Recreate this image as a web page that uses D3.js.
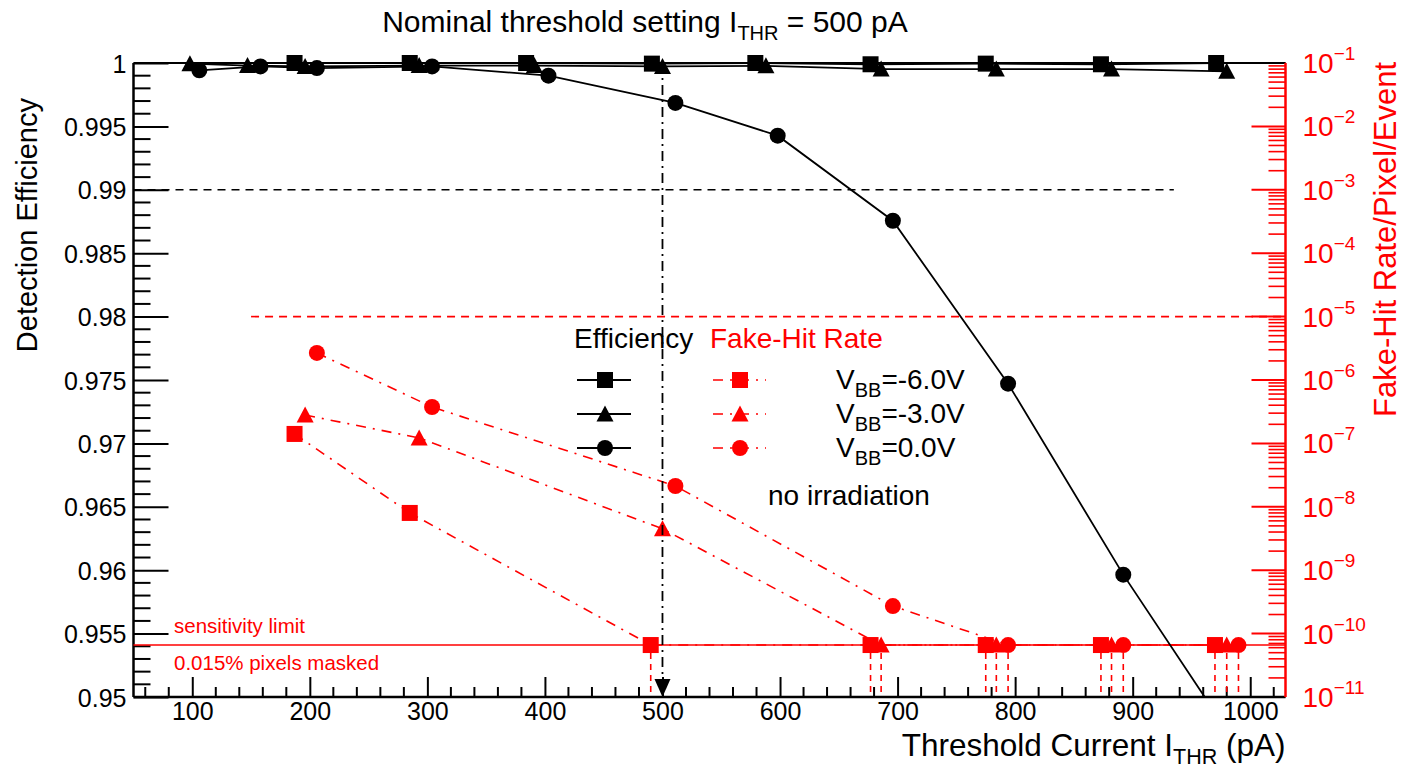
<!DOCTYPE html>
<html><head><meta charset="utf-8">
<script src="https://cdn.jsdelivr.net/npm/d3@7"></script>
<style>body{margin:0;background:#fff}svg{display:block;font-family:"Liberation Sans",Arial,Helvetica,sans-serif}</style>
</head><body>
<svg id="c" width="1404" height="773"></svg>
<script>
// ---------- data ----------
const xDomain = [50, 1030];
const effDomain = [0.95, 1.0];
const fakeDomain = [1e-11, 1e-1];
const xTickValues = [100, 200, 300, 400, 500, 600, 700, 800, 900, 1000];
const xTickLabels = ["100", "200", "300", "400", "500", "600", "700", "800", "900", "1000"];
const effTickValues = [0.95, 0.955, 0.96, 0.965, 0.97, 0.975, 0.98, 0.985, 0.99, 0.995, 1.0];
const effTickLabels = ["0.95", "0.955", "0.96", "0.965", "0.97", "0.975", "0.98", "0.985", "0.99", "0.995", "1"];
const fakeTickExponents = [-11, -10, -9, -8, -7, -6, -5, -4, -3, -2, -1];
const seriesNames = ["-6.0V", "-3.0V", "0.0V"];
const seriesMarkers = ["square", "triangle", "circle"];

// efficiency (left axis)
const effX_m6 = [187, 285, 384, 491, 579, 677, 775, 873, 971];
const effY_m6 = [1.0, 1.0, 1.0, 0.99995, 1.0, 0.9999, 0.99995, 0.9999, 1.0];
const effX_m3 = [98, 147, 196, 293, 391, 500, 588, 686, 784, 882, 980];
const effY_m3 = [0.99995, 0.9998, 0.99973, 0.9998, 0.9998, 0.99973, 0.99978, 0.99952, 0.99952, 0.99952, 0.99934];
const effX_0 = [106, 158, 206, 304, 403, 511, 598, 696, 794, 892, 990];
const effY_0 = [0.99942, 0.99973, 0.9996, 0.99973, 0.999, 0.99685, 0.99427, 0.98756, 0.97471, 0.95965, 0.946];

// fake-hit rate (right axis); points at the sensitivity limit are upper limits
const sensitivityLimit = 6.6e-11;
const fakeX_m6 = [187, 285, 490, 677, 775, 873, 970];
const fakeY_m6 = [1.41e-7, 8.0e-9, 6.6e-11, 6.6e-11, 6.6e-11, 6.6e-11, 6.6e-11];
const fakeX_m3 = [196, 293, 500, 686, 784, 882, 980];
const fakeY_m3 = [2.8e-7, 1.22e-7, 4.5e-9, 6.6e-11, 6.6e-11, 6.6e-11, 6.6e-11];
const fakeX_0 = [206, 304, 511, 696, 794, 892, 990];
const fakeY_0 = [2.67e-6, 3.75e-7, 2.13e-8, 2.72e-10, 6.6e-11, 6.6e-11, 6.6e-11];

const effRequirement = 0.99, effRequirementRange = [50, 935];
const fakeRequirement = 1e-5, fakeRequirementRange = [150, 1030];
const nominalThreshold = 500;

// ---------- layout ----------
const L = 133.5, R = 1285.5, T = 63, B = 697;
const RED = "#ff0000";
const svg = d3.select("#c");
const x = d3.scaleLinear().domain(xDomain).range([L, R]);
const yE = d3.scaleLinear().domain(effDomain).range([B, T]);
const yF = d3.scaleLog().domain(fakeDomain).range([B, T]);

svg.append("defs").append("clipPath").attr("id", "clip")
  .append("rect").attr("x", L).attr("y", T - 10).attr("width", R - L).attr("height", B - T + 10);

// ---------- axes ----------
const xAx = svg.append("g").attr("transform", `translate(0,${B})`)
  .call(d3.axisBottom(x).tickValues(xTickValues).tickFormat((d, i) => xTickLabels[i]).tickSizeInner(-20).tickSizeOuter(0).tickPadding(5));
xAx.select(".domain").remove();
xAx.selectAll("line").attr("stroke", "#000").attr("stroke-width", 2);
xAx.selectAll("text").attr("font-size", 25).attr("fill", "#000");
const xMinor = d3.range(60, 1030, 20).filter(v => v % 100 !== 0);
svg.append("g").selectAll("line").data(xMinor).join("line")
  .attr("x1", d => x(d)).attr("x2", d => x(d)).attr("y1", B).attr("y2", B - 10)
  .attr("stroke", "#000").attr("stroke-width", 2);

const yAx = svg.append("g").attr("transform", `translate(${L},0)`)
  .call(d3.axisLeft(yE).tickValues(effTickValues).tickFormat((d, i) => effTickLabels[i]).tickSizeInner(-35).tickSizeOuter(0).tickPadding(7));
yAx.select(".domain").remove();
yAx.selectAll("line").attr("stroke", "#000").attr("stroke-width", 2);
yAx.selectAll("text").attr("font-size", 25).attr("fill", "#000").attr("dy", "0.36em");
const yMinor = d3.range(0, 51).map(i => 0.95 + i * 0.001).filter((v, i) => i % 5 !== 0);
svg.append("g").selectAll("line").data(yMinor).join("line")
  .attr("x1", L).attr("x2", L + 17).attr("y1", d => yE(d)).attr("y2", d => yE(d))
  .attr("stroke", "#000").attr("stroke-width", 2);

// right log axis (red)
const rightG = svg.append("g");
fakeTickExponents.forEach(e => {
  const v = Math.pow(10, e);
  rightG.append("line").attr("x1", R - 34).attr("x2", R).attr("y1", yF(v)).attr("y2", yF(v)).attr("stroke", RED).attr("stroke-width", 2);
  const t = rightG.append("text").attr("x", R + 17).attr("y", yF(v) + 10).attr("fill", RED).attr("font-size", 28);
  t.append("tspan").text("10");
  t.append("tspan").attr("font-size", 19).attr("dy", -13).text("\u2212" + Math.abs(e));
  if (e < -1) {
    for (let k = 2; k <= 9; k++) {
      const mv = k * v;
      rightG.append("line").attr("x1", R - 17).attr("x2", R).attr("y1", yF(mv)).attr("y2", yF(mv)).attr("stroke", RED).attr("stroke-width", 1.6);
    }
  }
});

// frame
svg.append("line").attr("x1", L).attr("x2", R).attr("y1", T).attr("y2", T).attr("stroke", "#000").attr("stroke-width", 2);
svg.append("line").attr("x1", L).attr("x2", L).attr("y1", T).attr("y2", B).attr("stroke", "#000").attr("stroke-width", 2.5);
svg.append("line").attr("x1", L).attr("x2", R).attr("y1", B).attr("y2", B).attr("stroke", "#000").attr("stroke-width", 2.5);
svg.append("line").attr("x1", R).attr("x2", R).attr("y1", T).attr("y2", B).attr("stroke", RED).attr("stroke-width", 2.5);

// ---------- reference lines ----------
svg.append("line").attr("x1", x(effRequirementRange[0])).attr("x2", x(effRequirementRange[1]))
  .attr("y1", yE(effRequirement)).attr("y2", yE(effRequirement))
  .attr("stroke", "#000").attr("stroke-width", 1.6).attr("stroke-dasharray", "8,6");
svg.append("line").attr("x1", x(fakeRequirementRange[0])).attr("x2", x(fakeRequirementRange[1]))
  .attr("y1", yF(fakeRequirement)).attr("y2", yF(fakeRequirement))
  .attr("stroke", RED).attr("stroke-width", 1.6).attr("stroke-dasharray", "8,6");
svg.append("line").attr("x1", L).attr("x2", R).attr("y1", yF(sensitivityLimit)).attr("y2", yF(sensitivityLimit))
  .attr("stroke", RED).attr("stroke-width", 1.6);

// ---------- marker helper ----------
function marker(g, type, cx, cy, color, s = 16) {
  if (type === "square") {
    g.append("rect").attr("x", cx - s / 2).attr("y", cy - s / 2).attr("width", s).attr("height", s).attr("fill", color);
  } else if (type === "circle") {
    g.append("circle").attr("cx", cx).attr("cy", cy).attr("r", s / 2).attr("fill", color);
  } else {
    const w = s + 1, h = s - 1;
    g.append("path").attr("d", `M${cx},${cy - h / 2 - 1}L${cx + w / 2},${cy + h / 2}L${cx - w / 2},${cy + h / 2}Z`).attr("fill", color);
  }
}

// ---------- fake-hit series (red) ----------
const fakeSets = [[fakeX_m6, fakeY_m6], [fakeX_m3, fakeY_m3], [fakeX_0, fakeY_0]];
const plot = svg.append("g").attr("clip-path", "url(#clip)");
fakeSets.forEach(([xs, ys], si) => {
  const pts = xs.map((v, i) => [x(v), yF(ys[i])]);
  plot.append("path").attr("d", d3.line()(pts)).attr("fill", "none")
    .attr("stroke", RED).attr("stroke-width", 1.6).attr("stroke-dasharray", "10,7,2,7");
  xs.forEach((v, i) => {
    if (ys[i] <= sensitivityLimit) {
      plot.append("line").attr("x1", x(v)).attr("x2", x(v)).attr("y1", yF(ys[i]) + 8).attr("y2", B)
        .attr("stroke", RED).attr("stroke-width", 1.6).attr("stroke-dasharray", "6,5");
    }
  });
  xs.forEach((v, i) => marker(plot, seriesMarkers[si], x(v), yF(ys[i]), RED));
});

// ---------- efficiency series (black) ----------
const effSets = [[effX_m6, effY_m6], [effX_m3, effY_m3], [effX_0, effY_0]];
effSets.forEach(([xs, ys], si) => {
  const pts = xs.map((v, i) => [x(v), yE(ys[i])]);
  plot.append("path").attr("d", d3.line()(pts)).attr("fill", "none").attr("stroke", "#000").attr("stroke-width", 1.8);
  xs.forEach((v, i) => { if (ys[i] >= effDomain[0]) marker(plot, seriesMarkers[si], x(v), yE(ys[i]), "#000"); });
});

// ---------- nominal threshold line with arrow ----------
svg.append("line").attr("x1", x(nominalThreshold)).attr("x2", x(nominalThreshold)).attr("y1", T).attr("y2", B - 14)
  .attr("stroke", "#000").attr("stroke-width", 1.8).attr("stroke-dasharray", "10,5,2,5");
svg.append("path").attr("d", `M${x(nominalThreshold)},${B}L${x(nominalThreshold) + 8},${B - 18}L${x(nominalThreshold) - 8},${B - 18}Z`).attr("fill", "#000");

// ---------- legend ----------
const lg = svg.append("g");
lg.append("text").attr("x", 574).attr("y", 348).attr("font-size", 28).attr("fill", "#000").text("Efficiency");
lg.append("text").attr("x", 710).attr("y", 348).attr("font-size", 28).attr("fill", RED).text("Fake-Hit Rate");
const rowsY = [380, 414, 448];
seriesNames.forEach((nm, i) => {
  const yy = rowsY[i];
  lg.append("line").attr("x1", 577).attr("x2", 631).attr("y1", yy).attr("y2", yy).attr("stroke", "#000").attr("stroke-width", 1.8);
  marker(lg, seriesMarkers[i], 605, yy, "#000");
  lg.append("line").attr("x1", 713).attr("x2", 766).attr("y1", yy).attr("y2", yy).attr("stroke", RED).attr("stroke-width", 1.6).attr("stroke-dasharray", "10,7,2,7");
  marker(lg, seriesMarkers[i], 740, yy, RED);
  const t = lg.append("text").attr("x", 836).attr("y", yy + 9).attr("font-size", 28).attr("fill", "#000");
  t.append("tspan").text("V");
  t.append("tspan").attr("font-size", 20).attr("dy", 8).text("BB");
  t.append("tspan").attr("dy", -8).text("=" + nm);
});
lg.append("text").attr("x", 768).attr("y", 505).attr("font-size", 28).attr("fill", "#000").text("no irradiation");

// sensitivity annotations
svg.append("text").attr("x", 174).attr("y", 633).attr("font-size", 20.5).attr("fill", RED).text("sensitivity limit");
svg.append("text").attr("x", 174).attr("y", 670).attr("font-size", 20.5).attr("fill", RED).text("0.015% pixels masked");

// ---------- titles ----------
const title = svg.append("text").attr("x", 645).attr("y", 32).attr("text-anchor", "middle").attr("font-size", 30).attr("fill", "#000");
title.append("tspan").text("Nominal threshold setting I");
title.append("tspan").attr("font-size", 20).attr("dy", 8).text("THR");
title.append("tspan").attr("dy", -8).text(" = 500 pA");

const xt = svg.append("text").attr("x", R).attr("y", 756).attr("text-anchor", "end").attr("font-size", 31.5).attr("fill", "#000");
xt.append("tspan").text("Threshold Current I");
xt.append("tspan").attr("font-size", 21.5).attr("dy", 8).text("THR");
xt.append("tspan").attr("dy", -8).text(" (pA)");

svg.append("text").attr("transform", "translate(37,98) rotate(-90)").attr("text-anchor", "end")
  .attr("font-size", 29).attr("fill", "#000").text("Detection Efficiency");
svg.append("text").attr("transform", "translate(1396,62) rotate(-90)").attr("text-anchor", "end")
  .attr("font-size", 31).attr("fill", RED).text("Fake-Hit Rate/Pixel/Event");
</script>
</body></html>
